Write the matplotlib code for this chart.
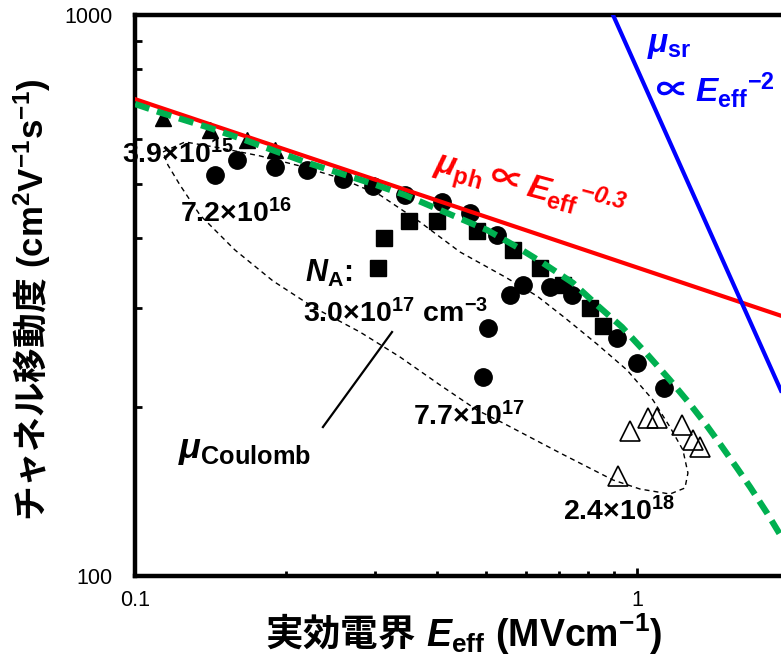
import matplotlib
matplotlib.use('Agg')
import matplotlib.pyplot as plt
from matplotlib.ticker import NullFormatter

plt.rcParams['font.family'] = ['Liberation Sans', 'Noto Sans CJK JP', 'DejaVu Sans']
plt.rcParams['mathtext.fontset'] = 'custom'
plt.rcParams['mathtext.rm'] = 'Liberation Sans:bold'
plt.rcParams['mathtext.it'] = 'Liberation Sans:bold:italic'
plt.rcParams['mathtext.bf'] = 'Noto Sans CJK JP:bold'
plt.rcParams['mathtext.bfit'] = 'Liberation Sans:bold:italic'
plt.rcParams['mathtext.fallback'] = 'stixsans'

# NA = 3.9e15 (filled triangles)
e_39e15 = [0.1137, 0.1411, 0.1671, 0.1901]
mu_39e15 = [655, 624, 599, 575]

# NA = 7.2e16 (circles)
e_72e16 = [0.1443, 0.1597, 0.1901, 0.2202, 0.2597, 0.2979, 0.3450, 0.4089,
           0.4649, 0.5262, 0.6709, 0.7424, 0.9125, 1.000, 1.132]
mu_72e16 = [519, 551, 536, 529, 510, 496, 478, 464, 444, 405, 328, 317, 266, 240, 216]

# NA = 3.0e17 (squares)
e_30e17 = [0.3048, 0.3133, 0.3514, 0.3996, 0.4801, 0.5662, 0.6409, 0.7120, 0.8061, 0.8555]
mu_30e17 = [354, 400, 430, 430, 412, 381, 354, 330, 300, 279]

# NA = 7.7e17 (circles)
e_77e17 = [0.4934, 0.5049, 0.5585, 0.5928]
mu_77e17 = [226, 277, 317, 330]

# NA = 2.4e18 (open triangles)
e_24e18 = [0.9167, 0.9685, 1.0517, 1.096, 1.229, 1.293, 1.335]
mu_24e18 = [151, 181, 191, 191, 186, 175, 170]

# phonon limit and surface roughness limit
ph_e = [0.1, 1.936]
ph_mu = [708, 291]
sr_e = [0.896, 1.936]
sr_mu = [1000, 214]

# green dashed fit
fit_e = [0.1, 0.1132, 0.1411, 0.1656, 0.2212, 0.2979, 0.3450, 0.4052, 0.5026, 0.5768,
         0.6497, 0.7458, 0.8324, 0.9335, 1.0469, 1.163, 1.275, 1.379, 1.464, 1.582,
         1.680, 1.816, 1.936]
fit_mu = [694, 668.6, 628.9, 598.6, 544.7, 500, 477.6, 449.1, 413.8, 385.8,
          361.3, 332.9, 304.1, 277.8, 248.7, 223.6, 202.6, 185.1, 171.9, 155.8,
          144.1, 129.5, 117.8]

# dashed guide loop (Coulomb region)
loop_e = [0.1137, 0.1258, 0.1477, 0.1774, 0.2132, 0.2561, 0.3076, 0.3695, 0.4440,
          0.5458, 0.6321, 0.7190, 0.8324, 0.9552, 1.0762, 1.1634, 1.2346, 1.2633,
          1.2461, 1.1634, 1.0139, 0.8959, 0.7026, 0.5408, 0.4801, 0.4052, 0.3372,
          0.2807, 0.2263, 0.1883, 0.1582, 0.1347, 0.1229, 0.1163, 0.1137]
loop_mu = [570.0, 593.9, 579.4, 560.8, 538.1, 512.2, 477.6, 427.6, 378.1,
           341.3, 315.6, 288.4, 259.1, 232.9, 205.9, 184.3, 167.7, 152.6,
           143.5, 140.0, 142.9, 148.3, 165.7, 187.4, 197.6, 219.0, 245.7,
           272.2, 301.6, 335.7, 381.1, 440.0, 497.7, 540.3, 570.0]

# pointer to the loop
coul_e = [0.2368, 0.3251]
coul_mu = [184.3, 272.2]

fig = plt.figure(figsize=(7.81, 6.59), dpi=100)
ax = fig.add_axes([135/781, 1-576/659, 646/781, 561/659])
ax.set_xscale('log')
ax.set_yscale('log')
ax.set_xlim(0.1, 1.936)
ax.set_ylim(100, 1000)

ms = dict(linestyle='none', color='black', zorder=2)
ax.plot(e_39e15, mu_39e15, marker='^', markersize=12, **ms)
ax.plot(e_72e16, mu_72e16, marker='o', markersize=12.5, **ms)
ax.plot(e_30e17, mu_30e17, marker='s', markersize=11.5, **ms)
ax.plot(e_77e17, mu_77e17, marker='o', markersize=12.5, **ms)
ax.plot(e_24e18, mu_24e18, marker='^', markersize=14, mfc='none', mew=1.2, **ms)

ax.plot(loop_e, loop_mu, color='black', lw=1, dashes=(3.6, 2.9), zorder=3)
ax.plot(coul_e, coul_mu, color='black', lw=1.6, zorder=3)
ax.plot(ph_e, ph_mu, color='#FF0000', lw=3, zorder=4)
ax.plot(sr_e, sr_mu, color='#0000FF', lw=3, zorder=4)
ax.plot(fit_e, fit_mu, color='#00B050', lw=4.5, dashes=(2.4, 1.3), zorder=5)

for s in ['left', 'bottom', 'top']:
    ax.spines[s].set_linewidth(3.2)
ax.spines['right'].set_visible(False)

ax.set_xticks([0.1, 1], ['0.1', '1'])
ax.set_yticks([100, 1000], ['100', '1000'])
ax.xaxis.set_minor_formatter(NullFormatter())
ax.yaxis.set_minor_formatter(NullFormatter())
ax.tick_params(which='both', direction='in', top=False, right=False)
ax.tick_params(axis='x', which='major', length=6, width=2, pad=10, labelsize=15.5)
ax.tick_params(axis='y', which='major', length=6, width=2, pad=16, labelsize=15.5)
ax.tick_params(axis='x', which='minor', length=3.7, width=2)
ax.tick_params(axis='y', which='minor', length=5, width=2)

tk = dict(ha='left', va='baseline', fontsize=20.5, zorder=6)
ax.text(0.0942, 544.7, r'$3.9{\times}10^{15}$', **tk)
ax.text(0.1229, 427.6, r'$7.2{\times}10^{16}$', **tk)
ax.text(0.2182, 334.2, r'$N_{\mathrm{A}}$:', ha='left', va='baseline', fontsize=22,
        fontweight='bold', zorder=6)
ax.text(0.2162, 283.7, r'$3.0{\times}10^{17}\ \mathrm{cm}^{-3}$', **tk)
ax.text(0.3580, 185.8, r'$7.7{\times}10^{17}$', **tk)
ax.text(0.7120, 125.8, r'$2.4{\times}10^{18}$', **tk)
ax.text(0.1218, 162.3, r'$\mu_{\mathrm{Coulomb}}$', ha='left', va='baseline',
        fontsize=26, zorder=6)

ax.text(0.3905, 525.0, r'$\mu_{\mathrm{ph}}\mathbf{\propto}E_{\mathrm{eff}}{}^{\mathbfit{-0.3}}$',
        color='#FF0000', fontsize=24, rotation=-15, rotation_mode='anchor',
        ha='left', va='baseline', zorder=6)
ax.text(1.0469, 859.1, r'$\mu_{\mathrm{sr}}$', color='#0000FF', fontsize=24,
        ha='left', va='baseline', zorder=6)
ax.text(1.0614, 699.8, r'$\mathbf{\propto}E_{\mathrm{eff}}{}^{-2}$', color='#0000FF',
        fontsize=24, ha='left', va='baseline', zorder=6)

fig.text(464/781, 1-647/659, r'$\mathbf{実効電界}\ E_{\mathrm{eff}}\ \mathrm{(MVcm^{-1})}$',
         ha='center', va='baseline', fontsize=27)
fig.text(32/781, 1-300/659, r'$\mathbf{チャネル移動度}\ \mathrm{(cm^{2}V^{-1}s^{-1})}$',
         ha='center', va='center', rotation=90, fontsize=25)

fig.savefig('out.png', dpi=100)
